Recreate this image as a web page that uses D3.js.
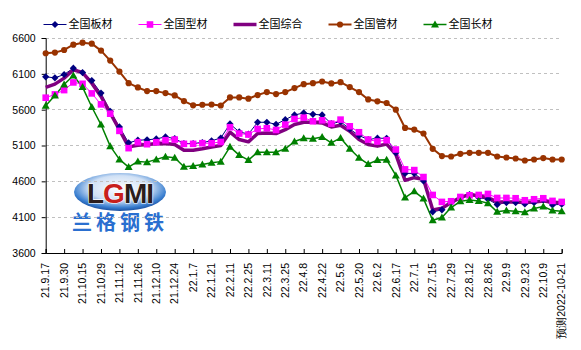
<!DOCTYPE html>
<html><head><meta charset="utf-8">
<script src="https://cdn.jsdelivr.net/npm/d3@7"></script>
<style>
html,body{margin:0;padding:0;background:#fff;}
svg{display:block;}
</style></head>
<body>
<svg id="chart" width="581" height="350"></svg>
<script>
// ---------- data ----------
const tickLabels = ["21.9.17","21.9.30","21.10.15","21.10.29","21.11.12","21.11.26","21.12.10","21.12.24","22.1.7","22.1.21","22.2.11","22.2.25","22.3.11","22.3.25","22.4.8","22.4.22","22.5.6","22.5.20","22.6.2","22.6.17","22.7.1","22.7.15","22.7.29","22.8.12","22.8.26","22.9.9","22.9.23","22.10.9","预测2022-10-21"];
const seriesNames = ["全国板材","全国型材","全国综合","全国管材","全国长材"];
const plate = [6058,6044,6091,6179,6118,6007,5831,5577,5359,5137,5174,5179,5192,5220,5197,5128,5128,5142,5165,5205,5401,5290,5260,5424,5424,5396,5461,5526,5554,5535,5526,5405,5433,5330,5239,5183,5202,5200,4998,4711,4711,4605,4174,4202,4304,4373,4415,4373,4350,4276,4304,4304,4285,4304,4341,4271,4280];
const section = [5767,5813,5873,5980,5961,5827,5674,5544,5304,5063,5146,5118,5146,5174,5183,5123,5123,5132,5132,5150,5355,5267,5253,5331,5341,5317,5392,5470,5489,5438,5452,5405,5461,5368,5285,5183,5156,5174,5044,4767,4757,4660,4410,4313,4322,4382,4405,4410,4424,4368,4368,4364,4336,4350,4364,4327,4313];
const composite = [5910,5956,6040,6156,6118,5970,5785,5554,5322,5081,5104,5114,5123,5128,5114,5035,5035,5054,5080,5100,5285,5183,5151,5267,5276,5267,5322,5392,5424,5424,5415,5359,5382,5299,5183,5114,5091,5120,4975,4614,4651,4628,4202,4225,4304,4373,4419,4396,4373,4313,4313,4313,4304,4313,4327,4304,4304];
const pipe = [6387,6396,6433,6507,6535,6521,6424,6285,6132,5970,5910,5859,5859,5831,5799,5720,5660,5669,5672,5658,5771,5771,5753,5804,5845,5817,5845,5901,5956,5970,5993,5966,5984,5915,5845,5743,5716,5693,5600,5345,5322,5267,5054,4952,4947,4984,4998,4998,4998,4947,4933,4919,4891,4905,4924,4905,4905];
const longp = [5656,5799,5952,6077,5915,5637,5392,5091,4906,4799,4878,4868,4906,4942,4928,4804,4813,4836,4859,4875,5081,4966,4896,5007,5007,5007,5054,5156,5202,5193,5220,5137,5206,5054,4928,4841,4896,4900,4683,4373,4461,4359,4058,4095,4234,4322,4341,4327,4294,4174,4192,4183,4169,4220,4248,4192,4183];
const yTicks = [3600,4100,4600,5100,5600,6100,6600];

// ---------- setup ----------
const svg = d3.select("#chart");
const L = 45.7, R = 561.7, T = 38, B = 253;
const idx = d3.range(plate.length);
const x = d3.scalePoint().domain(idx).range([L, R]);
const y = d3.scaleLinear().domain([3600, 6600]).range([B, T]);

const styles = [
  {name: seriesNames[0], data: plate, color: "#000080", width: 1, marker: "diamond"},
  {name: seriesNames[1], data: section, color: "#FF00FF", width: 1, marker: "square"},
  {name: seriesNames[2], data: composite, color: "#800080", width: 3.5, marker: null},
  {name: seriesNames[3], data: pipe, color: "#993300", width: 2, marker: "circle"},
  {name: seriesNames[4], data: longp, color: "#008000", width: 1.5, marker: "triangle"}
];

// ---------- watermark ----------
const wm = svg.append("g").attr("class","watermark");
const defs = svg.append("defs");
const rg = defs.append("radialGradient").attr("id","lg").attr("cx","50%").attr("cy","40%").attr("r","60%");
rg.append("stop").attr("offset","0%").attr("stop-color","#ffffff");
rg.append("stop").attr("offset","55%").attr("stop-color","#cfe0f5");
rg.append("stop").attr("offset","85%").attr("stop-color","#3a7fd0");
rg.append("stop").attr("offset","100%").attr("stop-color","#1a4fa0");
wm.append("ellipse").attr("cx",120).attr("cy",192).attr("rx",46).attr("ry",19).attr("fill","url(#lg)");
const lg = wm.append("text").attr("x",120).attr("y",203).attr("text-anchor","middle")
  .attr("font-family","Liberation Sans, Arial, sans-serif").attr("font-weight","bold").attr("font-size",28)
  .attr("stroke","#fff").attr("stroke-width",1.2).attr("paint-order","stroke").attr("letter-spacing",-1);
lg.append("tspan").attr("fill","#2b1d1d").text("L");
lg.append("tspan").attr("fill","#c8201c").text("G");
lg.append("tspan").attr("fill","#2b1d1d").text("MI");
wm.append("text").attr("x",120).attr("y",230).attr("text-anchor","middle")
  .attr("font-family","Noto Sans CJK SC").attr("font-weight","bold").attr("font-size",20)
  .attr("letter-spacing",4).attr("fill","#2a6fd0").text("兰格钢铁");

// ---------- grid ----------
svg.append("g").selectAll("line").data(yTicks.filter(d => d !== 3600)).join("line")
  .attr("x1", L).attr("x2", R).attr("y1", d => y(d)).attr("y2", d => y(d))
  .attr("stroke","#c0c0c0").attr("stroke-width",1).attr("stroke-dasharray","3,3")
  .attr("shape-rendering","crispEdges");

// ---------- axes ----------
const yAxis = svg.append("g").attr("transform",`translate(${L},0)`)
  .call(d3.axisLeft(y).tickValues(yTicks).tickSize(4).tickPadding(6).tickFormat(d3.format("d")));
yAxis.select(".domain").attr("stroke","#000");
yAxis.selectAll("text").attr("font-family","Liberation Sans, Arial, sans-serif").attr("font-size",10.5).attr("fill","#000");

const labelIdx = idx.filter(i => i % 2 === 0);
const xAxis = svg.append("g").attr("transform",`translate(0,${B})`)
  .call(d3.axisTop(x).tickValues(labelIdx).tickSize(4).tickFormat(""));
xAxis.select(".domain").attr("stroke","#000");
svg.append("g").selectAll("text").data(labelIdx).join("text")
  .attr("transform", i => `translate(${x(i)},${B + 10}) rotate(-90)`)
  .attr("text-anchor","end").attr("dy","0.35em")
  .attr("font-family","Liberation Sans, Arial, sans-serif").attr("font-size",10.5).attr("fill","#000")
  .text(i => tickLabels[i / 2]);

// ---------- series ----------
const line = d3.line().x((d, i) => x(i)).y(d => y(d));
const gLines = svg.append("g");
styles.forEach(s => {
  gLines.append("path").attr("d", line(s.data)).attr("fill","none")
    .attr("stroke", s.color).attr("stroke-width", s.width).attr("stroke-linejoin","round");
});

function markerPath(type) {
  switch (type) {
    case "diamond": return "M0,-3.6L3.6,0L0,3.6L-3.6,0Z";
    case "square": return "M-3.3,-3.3H3.3V3.3H-3.3Z";
    case "circle": return d3.symbol(d3.symbolCircle, 30)();
    case "triangle": return "M0,-4L4,3L-4,3Z";
  }
}
const gMarks = svg.append("g");
styles.filter(s => s.marker).forEach(s => {
  gMarks.append("g").selectAll("path").data(s.data).join("path")
    .attr("transform", (d, i) => `translate(${x(i)},${y(d)})`)
    .attr("d", markerPath(s.marker)).attr("fill", s.color);
});

// ---------- legend ----------
const legendPos = [43.5, 138.5, 233.5, 328.5, 423.5];
const lgG = svg.append("g");
styles.forEach((s, k) => {
  const x0 = legendPos[k], yy = 24.5;
  lgG.append("line").attr("x1", x0).attr("x2", x0 + 23).attr("y1", yy).attr("y2", yy)
    .attr("stroke", s.color).attr("stroke-width", s.marker ? Math.max(1, s.width) : 3.5);
  if (s.marker) {
    lgG.append("path").attr("transform", `translate(${x0 + 11.5},${yy})`)
      .attr("d", markerPath(s.marker)).attr("fill", s.color);
  }
  lgG.append("text").attr("x", x0 + 25).attr("y", yy).attr("dy","0.36em")
    .attr("font-family","Noto Sans CJK SC").attr("font-size",11).attr("fill","#000")
    .text(s.name);
});
</script>
</body></html>
